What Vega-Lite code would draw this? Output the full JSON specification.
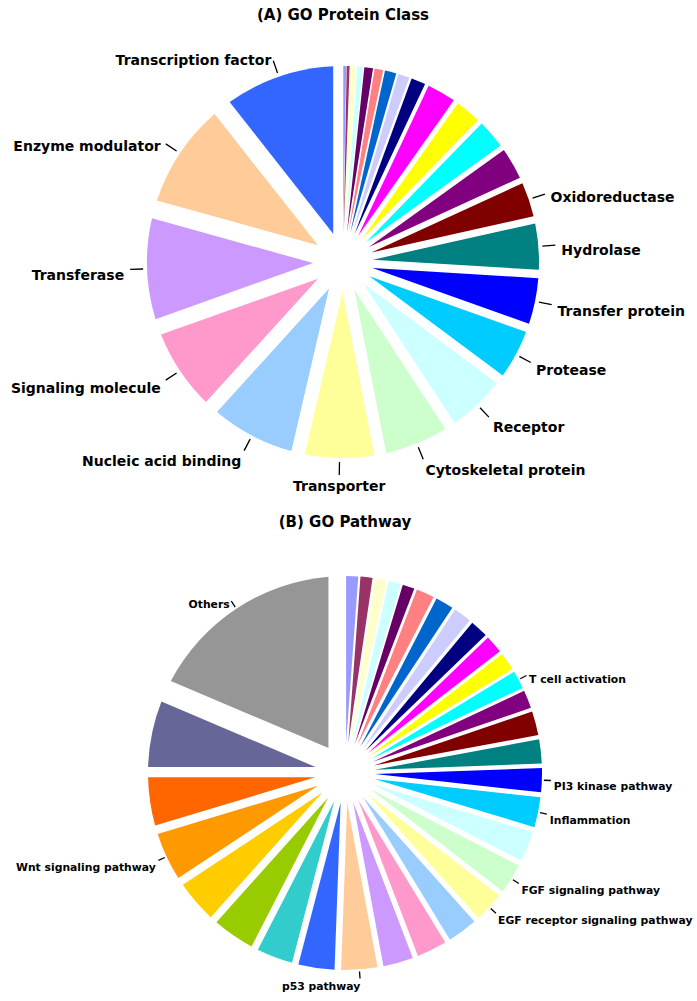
{
  "$schema": "https://vega.github.io/schema/vega-lite/v6.json",
  "background": "white",
  "padding": {"top": 8, "left": 0, "right": 0, "bottom": 0},
  "spacing": 20,
  "config": {
    "view": {"stroke": null},
    "font": "DejaVu Sans",
    "title": {"font": "DejaVu Sans", "fontSize": 15, "fontWeight": "bold", "anchor": "middle", "frame": "group", "offset": 6, "color": "#000000"}
  },
  "datasets": {
    "protein": [
      {"slice": 1, "label": "", "count": 1},
      {"slice": 2, "label": "", "count": 1},
      {"slice": 3, "label": "", "count": 2},
      {"slice": 4, "label": "", "count": 2},
      {"slice": 5, "label": "", "count": 3},
      {"slice": 6, "label": "", "count": 3},
      {"slice": 7, "label": "", "count": 4},
      {"slice": 8, "label": "", "count": 4},
      {"slice": 9, "label": "", "count": 5},
      {"slice": 10, "label": "", "count": 10},
      {"slice": 11, "label": "", "count": 9},
      {"slice": 12, "label": "", "count": 10},
      {"slice": 13, "label": "", "count": 11},
      {"slice": 14, "label": "Oxidoreductase", "count": 12},
      {"slice": 15, "label": "Hydrolase", "count": 16},
      {"slice": 16, "label": "Transfer protein", "count": 16},
      {"slice": 17, "label": "Protease", "count": 17},
      {"slice": 18, "label": "Receptor", "count": 20},
      {"slice": 19, "label": "Cytoskeletal protein", "count": 22},
      {"slice": 20, "label": "Transporter", "count": 24},
      {"slice": 21, "label": "Nucleic acid binding", "count": 29},
      {"slice": 22, "label": "Signaling molecule", "count": 28},
      {"slice": 23, "label": "Transferase", "count": 35},
      {"slice": 24, "label": "Enzyme modulator", "count": 36},
      {"slice": 25, "label": "Transcription factor", "count": 38}
    ],
    "pathway": [
      {"slice": 1, "label": "", "count": 2},
      {"slice": 2, "label": "", "count": 2},
      {"slice": 3, "label": "", "count": 2},
      {"slice": 4, "label": "", "count": 2},
      {"slice": 5, "label": "", "count": 2},
      {"slice": 6, "label": "", "count": 3},
      {"slice": 7, "label": "", "count": 3},
      {"slice": 8, "label": "", "count": 3},
      {"slice": 9, "label": "", "count": 3},
      {"slice": 10, "label": "", "count": 3},
      {"slice": 11, "label": "", "count": 3},
      {"slice": 12, "label": "T cell activation", "count": 3},
      {"slice": 13, "label": "", "count": 3},
      {"slice": 14, "label": "", "count": 4},
      {"slice": 15, "label": "", "count": 4},
      {"slice": 16, "label": "PI3 kinase pathway", "count": 4},
      {"slice": 17, "label": "Inflammation", "count": 5},
      {"slice": 18, "label": "", "count": 5},
      {"slice": 19, "label": "FGF signaling pathway", "count": 5},
      {"slice": 20, "label": "EGF receptor signaling pathway", "count": 5},
      {"slice": 21, "label": "", "count": 5},
      {"slice": 22, "label": "", "count": 5},
      {"slice": 23, "label": "", "count": 5},
      {"slice": 24, "label": "p53 pathway", "count": 6},
      {"slice": 25, "label": "", "count": 6},
      {"slice": 26, "label": "", "count": 6},
      {"slice": 27, "label": "", "count": 7},
      {"slice": 28, "label": "", "count": 7},
      {"slice": 29, "label": "Wnt signaling pathway", "count": 8},
      {"slice": 30, "label": "", "count": 8},
      {"slice": 31, "label": "", "count": 11},
      {"slice": 32, "label": "Others", "count": 32}
    ]
  },
  "vconcat": [
    {
      "width": 686,
      "height": 466,
      "title": "(A) GO Protein Class",
      "data": {"name": "protein"},
      "transform": [{"joinaggregate": [{"op": "sum", "field": "count", "as": "total"}]}],
      "encoding": {
        "theta": {"field": "count", "type": "quantitative", "stack": true},
        "order": {"field": "slice", "type": "quantitative", "sort": "ascending"}
      },
      "layer": [
        {
          "mark": {"type": "arc", "innerRadius": 30, "outerRadius": 196, "padAngle": {"expr": "2*asin(30*sin(PI*datum.count/datum.total)/198.28)"}},
          "encoding": {
            "color": {
              "field": "slice", "type": "ordinal", "legend": null,
              "scale": {
                "domain": [1,2,3,4,5,6,7,8,9,10,11,12,13,14,15,16,17,18,19,20,21,22,23,24,25,26,27,28,29,30,31,32],
                "range": ["#9999FF","#993366","#FFFFCC","#CCFFFF","#660066","#FF8080","#0066CC","#CCCCFF","#000080","#FF00FF","#FFFF00","#00FFFF","#800080","#800000","#008080","#0000FF","#00CCFF","#CCFFFF","#CCFFCC","#FFFF99","#99CCFF","#FF99CC","#CC99FF","#FFCC99","#3366FF","#33CCCC","#99CC00","#FFCC00","#FF9900","#FF6600","#666699","#969696"]
              }
            }
          }
        },
        {
          "mark": {"type": "arc", "innerRadius": 200, "outerRadius": 213, "padAngle": 3.1416, "filled": false, "stroke": "#000000", "strokeWidth": 1.3},
          "encoding": {
            "strokeOpacity": {"condition": {"test": "datum.label !== ''", "value": 1}, "value": 0}
          }
        },
        {
          "mark": {
            "type": "text", "radius": 219, "fontSize": 14, "fontWeight": "bold", "font": "DejaVu Sans", "dy": 6, "baseline": "middle", "color": "#000000",
            "align": {"expr": "(datum.count_start+datum.count_end)/2/datum.total < 0.47 ? 'left' : (((datum.count_start+datum.count_end)/2/datum.total >= 0.495 && (datum.count_start+datum.count_end)/2/datum.total <= 0.52) ? 'center' : 'right')"}
          },
          "encoding": {"text": {"field": "label", "type": "nominal"}}
        }
      ]
    },
    {
      "width": 690,
      "height": 474,
      "title": "(B) GO Pathway",
      "data": {"name": "pathway"},
      "transform": [{"joinaggregate": [{"op": "sum", "field": "count", "as": "total"}]}],
      "encoding": {
        "theta": {"field": "count", "type": "quantitative", "stack": true},
        "order": {"field": "slice", "type": "quantitative", "sort": "ascending"}
      },
      "layer": [
        {
          "mark": {"type": "arc", "innerRadius": 30, "outerRadius": 197, "padAngle": {"expr": "2*asin(30*sin(PI*datum.count/datum.total)/199.27)"}},
          "encoding": {
            "color": {
              "field": "slice", "type": "ordinal", "legend": null,
              "scale": {
                "domain": [1,2,3,4,5,6,7,8,9,10,11,12,13,14,15,16,17,18,19,20,21,22,23,24,25,26,27,28,29,30,31,32],
                "range": ["#9999FF","#993366","#FFFFCC","#CCFFFF","#660066","#FF8080","#0066CC","#CCCCFF","#000080","#FF00FF","#FFFF00","#00FFFF","#800080","#800000","#008080","#0000FF","#00CCFF","#CCFFFF","#CCFFCC","#FFFF99","#99CCFF","#FF99CC","#CC99FF","#FFCC99","#3366FF","#33CCCC","#99CC00","#FFCC00","#FF9900","#FF6600","#666699","#969696"]
              }
            }
          }
        },
        {
          "mark": {"type": "arc", "innerRadius": 199, "outerRadius": 206, "padAngle": 3.1416, "filled": false, "stroke": "#000000", "strokeWidth": 1.3},
          "encoding": {
            "strokeOpacity": {"condition": {"test": "datum.label !== ''", "value": 1}, "value": 0}
          }
        },
        {
          "mark": {
            "type": "text", "radius": 209, "fontSize": 10.8, "fontWeight": "bold", "font": "DejaVu Sans", "dy": 6, "baseline": "middle", "color": "#000000",
            "align": {"expr": "(datum.count_start+datum.count_end)/2/datum.total < 0.47 ? 'left' : (((datum.count_start+datum.count_end)/2/datum.total >= 0.495 && (datum.count_start+datum.count_end)/2/datum.total <= 0.52) ? 'center' : 'right')"}
          },
          "encoding": {"text": {"field": "label", "type": "nominal"}}
        }
      ]
    }
  ]
}
